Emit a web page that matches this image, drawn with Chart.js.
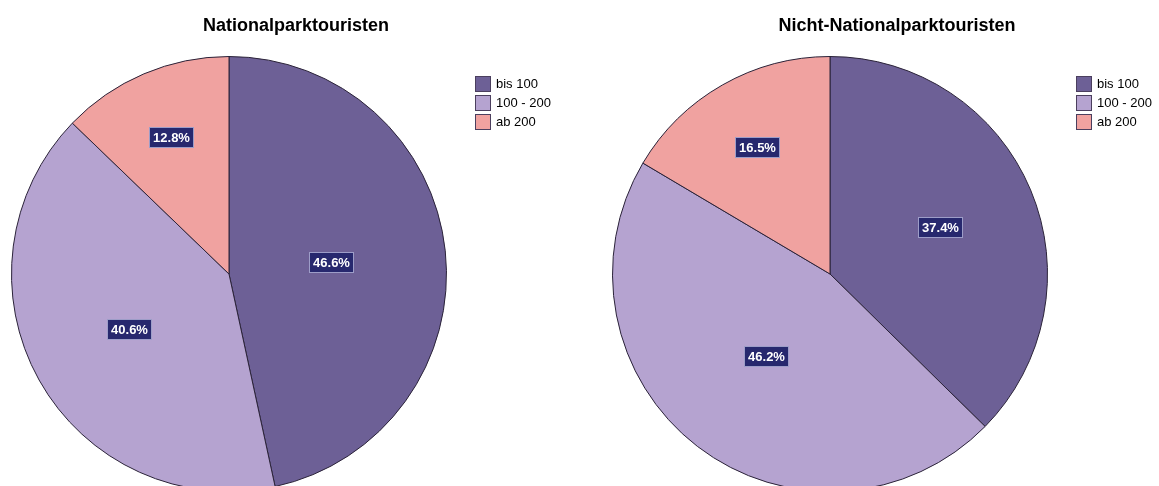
<!DOCTYPE html>
<html lang="de">
<head>
<meta charset="utf-8">
<title>Nationalparktouristen</title>
<script src="https://cdn.jsdelivr.net/npm/chart.js@4/dist/chart.umd.min.js"></script>
<style>
  html, body { margin: 0; padding: 0; background: #fff; overflow: hidden; width: 1159px; height: 486px; }
  canvas { position: absolute; top: 0; }
  #parkChart { left: 0; }
  #otherChart { left: 601px; }
</style>
</head>
<body>
<canvas id="parkChart" width="580" height="530"></canvas>
<canvas id="otherChart" width="580" height="530"></canvas>
<script>
const categories = ['bis 100', '100 - 200', 'ab 200'];
const parkShares = [46.6, 40.6, 12.8];
const otherShares = [37.4, 46.2, 16.5];
const panelTitles = ['Nationalparktouristen', 'Nicht-Nationalparktouristen'];

const sliceColors = ['#6d6096', '#b5a3d0', '#f0a2a0'];
const FONT = 'Arial, "Liberation Sans", sans-serif';

// percentage boxes, placed near each slice's centroid
const sliceLabels = {
    id: 'sliceLabels',
    afterDatasetsDraw(chart) {
        const ctx = chart.ctx;
        const values = chart.data.datasets[0].data;
        ctx.save();
        ctx.font = 'bold 13px ' + FONT;
        ctx.textAlign = 'center';
        ctx.textBaseline = 'middle';
        chart.getDatasetMeta(0).data.forEach((arc, i) => {
            const p = arc.getProps(['x', 'y', 'startAngle', 'endAngle', 'outerRadius'], true);
            const half = (p.endAngle - p.startAngle) / 2;
            const mid = p.startAngle + half;
            const d = 1.05 * 2 * p.outerRadius * Math.sin(half) / (3 * half);
            const cx = p.x + Math.cos(mid) * d;
            const cy = p.y + Math.sin(mid) * d;
            const text = values[i].toFixed(1) + '%';
            const w = Math.round(ctx.measureText(text).width + 8);
            const h = 21;
            const left = Math.round(cx - w / 2), top = Math.round(cy - h / 2);
            ctx.fillStyle = '#27286e';
            ctx.fillRect(left, top, w, h);
            ctx.strokeStyle = '#9d9dc8';
            ctx.lineWidth = 1;
            ctx.strokeRect(left + 0.5, top + 0.5, w - 1, h - 1);
            ctx.fillStyle = '#fff';
            ctx.fillText(text, left + w / 2, top + h / 2 + 1);
        });
        ctx.restore();
    }
};

// title above and the small legend to the right of the pie
const panelText = {
    id: 'panelText',
    afterDraw(chart, args, opts) {
        const {ctx, chartArea} = chart;
        const ds = chart.data.datasets[0];
        ctx.save();
        ctx.fillStyle = '#000';
        ctx.font = 'bold 18px ' + FONT;
        ctx.textAlign = 'center';
        ctx.textBaseline = 'alphabetic';
        ctx.fillText(opts.title, (chartArea.left + chartArea.right) / 2 + 67, 31);

        ctx.font = '13px ' + FONT;
        ctx.textAlign = 'left';
        ctx.textBaseline = 'middle';
        chart.data.labels.forEach((label, i) => {
            const bx = Math.round(chartArea.right) + 28;
            const by = Math.round(chartArea.top) + 20 + i * 19;
            ctx.fillStyle = ds.backgroundColor[i];
            ctx.fillRect(bx, by, 16, 16);
            ctx.strokeStyle = '#4b3f5e';
            ctx.lineWidth = 1;
            ctx.strokeRect(bx + 0.5, by + 0.5, 15, 15);
            ctx.fillStyle = '#000';
            ctx.fillText(label, bx + 21, by + 8.5);
        });
        ctx.restore();
    }
};

function makePie(id, values, title) {
    return new Chart(document.getElementById(id), {
        type: 'pie',
        data: {
            labels: categories,
            datasets: [{
                data: values,
                backgroundColor: sliceColors,
                borderColor: '#2a2238',
                borderWidth: 1
            }]
        },
        plugins: [sliceLabels, panelText],
        options: {
            responsive: false,
            animation: false,
            layout: {
                padding: { left: 11, right: 133, top: 56, bottom: 38 }
            },
            plugins: {
                legend: { display: false },
                title: { display: false },
                tooltip: { enabled: false },
                panelText: { title: title }
            }
        }
    });
}

makePie('parkChart', parkShares, panelTitles[0]);
makePie('otherChart', otherShares, panelTitles[1]);
</script>
</body>
</html>
